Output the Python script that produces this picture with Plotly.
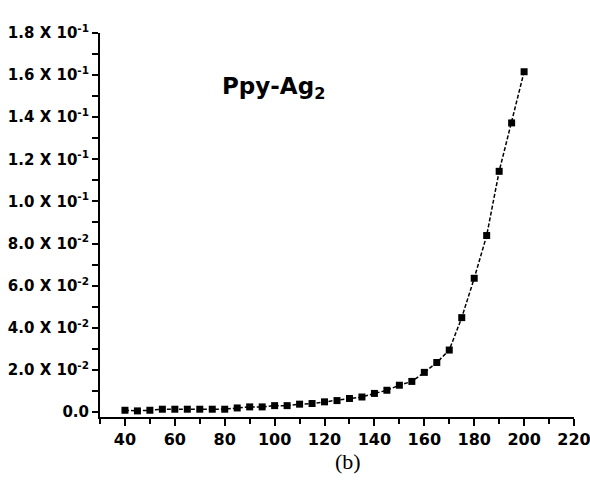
import plotly.graph_objects as go

temperature = [40, 45, 50, 55, 60, 65, 70, 75, 80, 85, 90, 95, 100, 105, 110, 115, 120,
               125, 130, 135, 140, 145, 150, 155, 160, 165, 170, 175, 180, 185, 190, 195, 200]
values = [0.0008, 0.0005, 0.0008, 0.0013, 0.0013, 0.0013, 0.0013, 0.0013, 0.0013, 0.0019,
          0.0024, 0.0024, 0.0030, 0.0030, 0.0037, 0.0040, 0.0048,
          0.0054, 0.0064, 0.0071, 0.0088, 0.0103, 0.0127, 0.0145, 0.0188, 0.0235, 0.0294,
          0.0448, 0.0635, 0.0838, 0.1143, 0.1373, 0.1616]

ytick_vals = [0.0, 0.02, 0.04, 0.06, 0.08, 0.10, 0.12, 0.14, 0.16, 0.18]
ytick_text = ["<b>0.0</b>",
              "<b>2.0 X 10<sup>-2</sup></b>", "<b>4.0 X 10<sup>-2</sup></b>", "<b>6.0 X 10<sup>-2</sup></b>",
              "<b>8.0 X 10<sup>-2</sup></b>", "<b>1.0 X 10<sup>-1</sup></b>", "<b>1.2 X 10<sup>-1</sup></b>",
              "<b>1.4 X 10<sup>-1</sup></b>", "<b>1.6 X 10<sup>-1</sup></b>", "<b>1.8 X 10<sup>-1</sup></b>"]
xtick_vals = [40, 60, 80, 100, 120, 140, 160, 180, 200, 220]
xtick_text = ["<b>%d</b>" % v for v in xtick_vals]

SANS = "DejaVu Sans, Arial, sans-serif"

fig = go.Figure()
fig.add_trace(go.Scatter(
    x=temperature, y=values, mode="lines+markers",
    line=dict(color="black", width=1.5, dash="4px,2px"),
    marker=dict(symbol="square", size=7, color="black"),
    showlegend=False,
))

pw = 590 - 100 - 16
ph = 481 - 33 - 64

def px(x):
    return (x - 100) / pw

def py(y):
    return 1 - (y - 33) / ph

fig.update_layout(
    width=590, height=481,
    margin=dict(l=100, r=16, t=33, b=64),
    plot_bgcolor="white", paper_bgcolor="white",
    font=dict(family=SANS, color="black"),
    xaxis=dict(
        range=[30, 220], tickvals=xtick_vals, ticktext=xtick_text,
        automargin=False, ticklabeloverflow="allow",
        showline=True, linecolor="black", linewidth=2,
        ticks="outside", ticklen=7, tickwidth=2, tickcolor="black",
        minor=dict(ticks="outside", dtick=10, tick0=30, ticklen=5, tickwidth=2, tickcolor="black"),
        showgrid=False, zeroline=False,
        tickfont=dict(family=SANS, size=16, color="black"),
    ),
    yaxis=dict(
        range=[-0.0024, 0.18], tickvals=ytick_vals, ticktext=ytick_text,
        automargin=False, ticklabeloverflow="allow",
        showline=True, linecolor="black", linewidth=2,
        ticks="outside", ticklen=6, tickwidth=2, tickcolor="black",
        minor=dict(ticks="outside", dtick=0.01, tick0=0, ticklen=6, tickwidth=2, tickcolor="black"),
        showgrid=False, zeroline=False,
        tickfont=dict(family=SANS, size=15, color="black"),
    ),
    annotations=[
        dict(text="<b>Ppy-Ag<sub>2</sub></b>", x=px(273), y=py(88), xref="paper", yref="paper",
             xanchor="center", yanchor="middle",
             showarrow=False, font=dict(family=SANS, size=23, color="black")),
        dict(text="(b)", x=px(348), y=py(461), xref="paper", yref="paper",
             xanchor="center", yanchor="middle",
             showarrow=False, font=dict(family="Liberation Serif, Times New Roman, serif", size=22, color="black")),
    ],
)

fig.write_html("out.html")
